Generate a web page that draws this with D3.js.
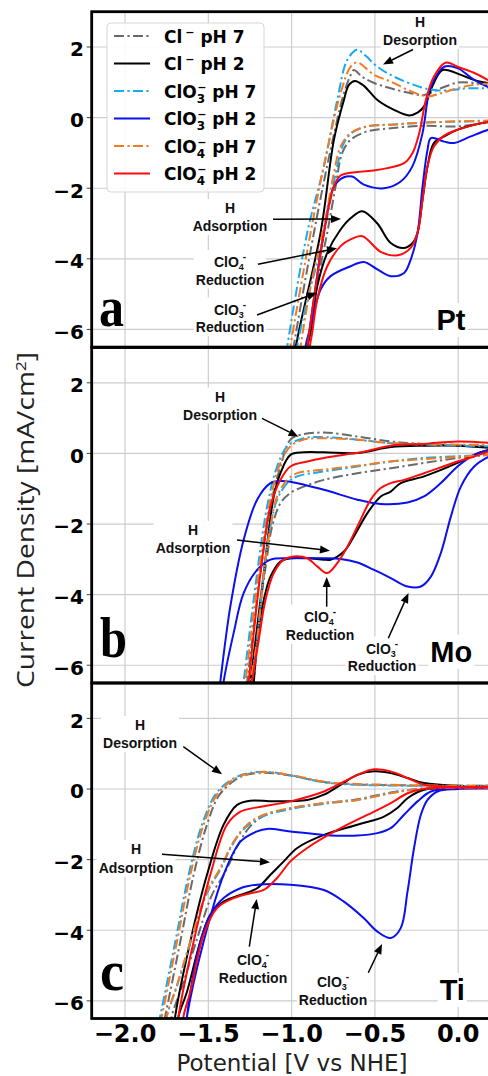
<!DOCTYPE html>
<html>
<head>
<meta charset="utf-8">
<script src="https://cdn.jsdelivr.net/npm/d3@7"></script>
<style>
  body { margin: 0; background: #fff; }
  svg { display: block; }
</style>
</head>
<body>
<svg id="chart" width="488" height="1076"></svg>
<script>
// ---- Cyclic voltammograms: [potential V vs NHE, current density mA/cm2]
// Each loop: cathodic sweep (0.2 V -> negative) followed by the anodic return.

// Pt
const ptClpH7 = [[0.21,-0.11],[-0.004,-0.25],[-0.205,-0.23],[-0.405,-0.30],[-0.545,-0.39],[-0.646,-0.63],[-0.696,-1.00],[-0.736,-1.95],[-0.786,-3.26],[-0.846,-4.67],[-0.906,-6.47],[-0.92,-6.9],
  [-1.0,-6.9],[-0.987,-6.47],[-0.866,-3.26],[-0.766,-0.91],[-0.686,0.69],[-0.646,1.20],[-0.626,1.35],[-0.575,1.15],[-0.505,0.98],[-0.405,0.83],[-0.285,0.69],[-0.205,0.64],[-0.104,0.83],[-0.004,0.99],[0.096,0.98],[0.21,0.93]];
const ptClpH2 = [[0.21,-0.10],[0.185,-0.11],[-0.002,-0.34],[-0.084,-0.53],[-0.146,-0.72],[-0.184,-1.38],[-0.214,-2.32],[-0.244,-3.26],[-0.274,-3.55],[-0.325,-3.69],[-0.405,-3.55],[-0.485,-3.0],[-0.575,-2.65],[-0.646,-2.85],[-0.706,-3.17],[-0.786,-3.83],[-0.846,-4.78],[-0.886,-6.08],[-0.905,-6.47],[-0.92,-6.9],
  [-0.985,-6.9],[-0.966,-6.28],[-0.826,-3.26],[-0.746,-0.63],[-0.686,0.50],[-0.656,0.93],[-0.620,1.04],[-0.566,0.90],[-0.485,0.50],[-0.385,0.22],[-0.295,0.06],[-0.244,0.14],[-0.206,0.31],[-0.146,0.98],[-0.094,1.35],[0.016,1.21],[0.094,1.07],[0.21,0.95]];
const ptClO3pH7 = [[0.21,-0.09],[-0.205,-0.14],[-0.405,-0.20],[-0.525,-0.23],[-0.626,-0.39],[-0.686,-0.72],[-0.726,-1.38],[-0.766,-2.32],[-0.826,-3.74],[-0.906,-5.15],[-0.966,-6.47],[-0.98,-6.9],
  [-1.04,-6.9],[-1.026,-6.47],[-0.906,-3.26],[-0.806,-1.38],[-0.726,0.50],[-0.665,1.64],[-0.605,1.92],[-0.555,1.75],[-0.485,1.44],[-0.385,1.16],[-0.224,0.86],[-0.124,0.77],[-0.024,0.79],[0.057,0.83],[0.21,0.83]];
const ptClO3pH2 = [[0.21,-0.32],[0.185,-0.34],[0.076,-0.53],[-0.024,-0.72],[-0.084,-0.68],[-0.164,-0.58],[-0.184,-0.91],[-0.214,-1.95],[-0.244,-3.27],[-0.285,-4.02],[-0.325,-4.40],[-0.405,-4.49],[-0.485,-4.30],[-0.566,-4.09],[-0.646,-4.21],[-0.766,-4.49],[-0.826,-4.87],[-0.886,-5.91],[-0.916,-6.47],[-0.93,-6.9],
  [-0.92,-6.9],[-0.906,-6.47],[-0.806,-3.26],[-0.746,-1.95],[-0.686,-1.69],[-0.636,-1.67],[-0.566,-1.90],[-0.445,-2.00],[-0.345,-1.81],[-0.275,-1.38],[-0.214,-0.44],[-0.184,0.50],[-0.164,0.88],[-0.084,1.44],[-0.004,1.40],[0.096,1.07],[0.21,0.80]];
const ptClO4pH7 = [[0.21,-0.08],[-0.205,-0.14],[-0.405,-0.20],[-0.545,-0.25],[-0.646,-0.44],[-0.706,-0.82],[-0.746,-1.57],[-0.806,-3.08],[-0.886,-4.78],[-0.946,-6.47],[-0.96,-6.9],
  [-1.02,-6.9],[-1.007,-6.47],[-0.886,-3.26],[-0.786,-0.91],[-0.706,0.69],[-0.646,1.44],[-0.605,1.56],[-0.505,1.21],[-0.405,1.02],[-0.304,0.79],[-0.184,0.60],[-0.104,0.69],[-0.004,0.83],[0.096,0.93],[0.21,0.98]];
const ptClO4pH2 = [[0.21,-0.10],[0.185,-0.11],[-0.004,-0.34],[-0.084,-0.51],[-0.146,-0.82],[-0.184,-1.38],[-0.214,-2.32],[-0.244,-3.26],[-0.285,-3.69],[-0.365,-3.90],[-0.465,-3.80],[-0.575,-3.36],[-0.646,-3.45],[-0.706,-3.64],[-0.786,-4.21],[-0.846,-5.15],[-0.876,-6.08],[-0.89,-6.47],[-0.90,-6.9],
  [-0.92,-6.9],[-0.906,-6.47],[-0.806,-3.26],[-0.746,-1.95],[-0.706,-1.64],[-0.605,-1.54],[-0.507,-1.50],[-0.425,-1.43],[-0.325,-1.29],[-0.274,-1.00],[-0.234,-0.44],[-0.194,0.50],[-0.146,1.16],[-0.074,1.56],[-0.004,1.44],[0.094,1.27],[0.21,0.98]];

// Mo
const moClpH7 = [[0.21,-0.03],[0.185,-0.04],[-0.004,-0.13],[-0.205,-0.27],[-0.405,-0.42],[-0.605,-0.56],[-0.806,-0.75],[-0.927,-0.94],[-1.007,-1.12],[-1.067,-1.41],[-1.117,-2.07],[-1.147,-2.92],[-1.187,-4.34],[-1.227,-6.46],[-1.24,-6.9],
  [-1.28,-6.9],[-1.267,-6.46],[-1.187,-3.39],[-1.127,-1.50],[-1.067,-0.37],[-1.007,0.39],[-0.946,0.53],[-0.806,0.59],[-0.605,0.48],[-0.405,0.34],[-0.205,0.27],[0.21,0.20]];
const moClpH2 = [[0.21,0.10],[0.185,0.10],[0.096,-0.04],[-0.004,-0.27],[-0.205,-0.65],[-0.345,-0.84],[-0.405,-1.08],[-0.465,-1.22],[-0.545,-1.69],[-0.626,-2.35],[-0.686,-2.78],[-0.766,-3.01],[-0.806,-3.01],[-0.906,-2.97],[-1.007,-2.97],[-1.067,-3.06],[-1.127,-3.49],[-1.167,-4.15],[-1.207,-5.28],[-1.227,-6.46],[-1.24,-6.9],
  [-1.26,-6.9],[-1.247,-6.46],[-1.167,-3.39],[-1.107,-1.22],[-1.067,-0.56],[-1.007,-0.04],[-0.927,0.03],[-0.806,0.03],[-0.605,0.01],[-0.405,0.18],[-0.205,0.22],[-0.004,0.22],[0.21,0.15]];
const moClO3pH7 = [[0.21,-0.03],[0.185,-0.04],[-0.205,-0.13],[-0.405,-0.23],[-0.605,-0.37],[-0.806,-0.51],[-0.966,-0.65],[-1.026,-0.84],[-1.087,-1.31],[-1.127,-2.07],[-1.167,-3.39],[-1.207,-5.28],[-1.237,-6.46],[-1.25,-6.9],
  [-1.30,-6.9],[-1.288,-6.46],[-1.207,-3.39],[-1.147,-1.50],[-1.087,-0.37],[-1.026,0.20],[-0.927,0.43],[-0.806,0.46],[-0.605,0.39],[-0.405,0.29],[0.21,0.20]];
const moClO3pH2 = [[0.21,-0.05],[0.185,-0.09],[0.096,-0.37],[0.016,-0.94],[-0.044,-1.79],[-0.104,-2.82],[-0.164,-3.49],[-0.224,-3.77],[-0.304,-3.77],[-0.405,-3.53],[-0.505,-3.30],[-0.605,-3.09],[-0.706,-2.99],[-0.806,-2.97],[-1.007,-2.97],[-1.127,-3.01],[-1.207,-3.30],[-1.288,-3.96],[-1.348,-5.09],[-1.408,-6.46],[-1.42,-6.9],
  [-1.44,-6.9],[-1.428,-6.46],[-1.368,-4.34],[-1.288,-2.45],[-1.207,-1.31],[-1.127,-0.84],[-1.067,-0.78],[-1.007,-0.80],[-0.806,-1.03],[-0.605,-1.31],[-0.465,-1.43],[-0.304,-1.39],[-0.205,-1.22],[-0.104,-0.84],[-0.004,-0.37],[0.096,-0.04],[0.21,0.12]];
const moClO4pH7 = [[0.21,-0.03],[0.185,-0.04],[-0.205,-0.16],[-0.405,-0.23],[-0.605,-0.35],[-0.806,-0.46],[-0.966,-0.56],[-1.026,-0.75],[-1.087,-1.22],[-1.127,-2.07],[-1.167,-3.39],[-1.207,-5.28],[-1.247,-6.46],[-1.26,-6.9],
  [-1.29,-6.9],[-1.277,-6.46],[-1.197,-3.39],[-1.127,-1.31],[-1.067,-0.27],[-1.007,0.20],[-0.927,0.39],[-0.806,0.43],[-0.605,0.39],[-0.405,0.29],[0.21,0.24]];
const moClO4pH2 = [[0.21,0.05],[0.185,0.05],[0.096,-0.09],[-0.004,-0.23],[-0.205,-0.56],[-0.325,-0.75],[-0.405,-0.84],[-0.465,-0.98],[-0.525,-1.31],[-0.605,-2.07],[-0.665,-2.64],[-0.726,-3.11],[-0.786,-3.39],[-0.846,-3.20],[-0.906,-2.97],[-0.987,-2.92],[-1.047,-3.01],[-1.107,-3.39],[-1.157,-4.15],[-1.197,-5.28],[-1.237,-6.46],[-1.25,-6.9],
  [-1.27,-6.9],[-1.258,-6.46],[-1.187,-3.39],[-1.127,-1.50],[-1.067,-0.75],[-1.007,-0.37],[-0.906,-0.23],[-0.806,-0.13],[-0.686,-0.04],[-0.566,0.05],[-0.405,0.22],[-0.205,0.27],[-0.004,0.34],[0.21,0.29]];

// Ti
const tiClpH7 = [[0.21,0.03],[-0.205,0.01],[-0.405,-0.10],[-0.605,-0.29],[-0.806,-0.40],[-1.007,-0.55],[-1.167,-0.76],[-1.247,-1.05],[-1.318,-1.55],[-1.398,-2.35],[-1.478,-3.00],[-1.578,-4.40],[-1.658,-5.60],[-1.72,-6.44],[-1.73,-6.9],
  [-1.78,-6.9],[-1.759,-6.44],[-1.668,-4.32],[-1.588,-2.43],[-1.508,-1.01],[-1.438,-0.20],[-1.358,0.19],[-1.288,0.38],[-1.167,0.46],[-1.007,0.38],[-0.806,0.20],[-0.605,0.13],[-0.405,0.11],[-0.205,0.10],[0.21,0.09]];
const tiClpH2 = [[0.21,0.03],[-0.205,-0.02],[-0.304,-0.26],[-0.365,-0.54],[-0.445,-0.78],[-0.605,-1.01],[-0.806,-1.30],[-0.966,-1.67],[-1.047,-2.05],[-1.127,-2.43],[-1.207,-2.81],[-1.307,-3.00],[-1.408,-3.19],[-1.488,-3.56],[-1.548,-4.32],[-1.628,-5.74],[-1.679,-6.44],[-1.69,-6.9],
  [-1.71,-6.9],[-1.699,-6.44],[-1.608,-4.32],[-1.508,-2.43],[-1.408,-1.01],[-1.327,-0.45],[-1.247,-0.33],[-1.107,-0.35],[-0.906,-0.31],[-0.806,-0.16],[-0.706,0.12],[-0.605,0.40],[-0.505,0.50],[-0.405,0.45],[-0.304,0.31],[-0.205,0.17],[-0.004,0.09],[0.21,0.09]];
const tiClO3pH7 = [[0.21,0.03],[-0.205,0.02],[-0.405,-0.11],[-0.605,-0.31],[-0.806,-0.42],[-1.007,-0.57],[-1.167,-0.76],[-1.267,-1.05],[-1.348,-1.52],[-1.428,-2.28],[-1.508,-2.95],[-1.608,-4.36],[-1.688,-5.58],[-1.749,-6.44],[-1.76,-6.9],
  [-1.81,-6.9],[-1.789,-6.44],[-1.698,-4.32],[-1.618,-2.43],[-1.538,-1.01],[-1.458,-0.16],[-1.378,0.21],[-1.288,0.42],[-1.167,0.49],[-1.007,0.39],[-0.806,0.19],[-0.605,0.12],[-0.405,0.10],[-0.205,0.09],[0.21,0.09]];
const tiClO3pH2 = [[0.21,0.01],[-0.004,0.00],[-0.124,-0.07],[-0.184,-0.31],[-0.224,-0.73],[-0.265,-1.67],[-0.304,-2.90],[-0.345,-3.94],[-0.405,-4.22],[-0.485,-4.04],[-0.566,-3.66],[-0.686,-3.19],[-0.806,-2.86],[-1.007,-2.71],[-1.207,-2.71],[-1.307,-2.81],[-1.408,-3.09],[-1.488,-3.56],[-1.548,-4.32],[-1.608,-5.74],[-1.628,-6.44],[-1.64,-6.9],
  [-1.64,-6.9],[-1.628,-6.44],[-1.528,-4.32],[-1.408,-2.43],[-1.307,-1.49],[-1.207,-1.20],[-1.147,-1.13],[-1.007,-1.20],[-0.806,-1.30],[-0.605,-1.32],[-0.485,-1.25],[-0.405,-1.11],[-0.325,-0.73],[-0.244,-0.35],[-0.164,-0.07],[-0.004,0.03],[0.21,0.03]];
const tiClO4pH7 = [[0.21,0.03],[-0.205,0.01],[-0.405,-0.12],[-0.605,-0.31],[-0.806,-0.40],[-1.007,-0.54],[-1.167,-0.73],[-1.267,-1.01],[-1.348,-1.49],[-1.428,-2.24],[-1.508,-2.90],[-1.608,-4.32],[-1.688,-5.55],[-1.749,-6.44],[-1.76,-6.9],
  [-1.80,-6.9],[-1.779,-6.44],[-1.688,-4.32],[-1.608,-2.43],[-1.528,-1.01],[-1.448,-0.16],[-1.368,0.21],[-1.288,0.40],[-1.167,0.48],[-1.007,0.40],[-0.806,0.21],[-0.605,0.14],[-0.405,0.12],[-0.205,0.10],[0.21,0.09]];
const tiClO4pH2 = [[0.21,0.03],[-0.205,0.01],[-0.304,-0.12],[-0.405,-0.40],[-0.505,-0.64],[-0.706,-1.11],[-0.906,-1.67],[-1.007,-2.05],[-1.087,-2.52],[-1.167,-2.86],[-1.247,-2.95],[-1.348,-3.09],[-1.448,-3.37],[-1.528,-4.13],[-1.608,-5.74],[-1.649,-6.44],[-1.66,-6.9],
  [-1.69,-6.9],[-1.679,-6.44],[-1.588,-4.32],[-1.488,-2.43],[-1.388,-1.01],[-1.307,-0.64],[-1.207,-0.52],[-1.007,-0.35],[-0.806,-0.07],[-0.686,0.21],[-0.605,0.40],[-0.505,0.56],[-0.405,0.50],[-0.304,0.31],[-0.205,0.12],[0.21,0.07]];

// ---- Labels, ticks, styles
const seriesLabels = ["Cl⁻ pH 7", "Cl⁻ pH 2", "ClO₃⁻ pH 7", "ClO₃⁻ pH 2", "ClO₄⁻ pH 7", "ClO₄⁻ pH 2"];
const seriesColors = ["#6a6a6a", "#000000", "#17a9f2", "#0a10ee", "#f47a22", "#ff0b0b"];
const seriesDashed = [true, false, true, false, true, false];
const xTicks = [-2.0, -1.5, -1.0, -0.5, 0.0];
const yTicks = [2, 0, -2, -4, -6];
const metals = ["Pt", "Mo", "Ti"];
const panelLetters = ["a", "b", "c"];
const panelSeries = [
  [ptClpH7, ptClpH2, ptClO3pH7, ptClO3pH2, ptClO4pH7, ptClO4pH2],
  [moClpH7, moClpH2, moClO3pH7, moClO3pH2, moClO4pH7, moClO4pH2],
  [tiClpH7, tiClpH2, tiClO3pH7, tiClO3pH2, tiClO4pH7, tiClO4pH2]
];

// ---- Layout
const svg = d3.select("#chart");
const X0 = 91.7, X1 = 491.5;
const panelTop = [11.7, 347.5, 683.1];
const panelH = 335.4;
const x = d3.scaleLinear().domain([-2.2, 0.2]).range([X0, X1]);
const yFor = i => d3.scaleLinear().domain([-6.5, 3.0]).range([panelTop[i] + panelH, panelTop[i]]);
const DASH = "10,3.4,2.2,3.4";
const fmtX = d3.format(".1f");
const fmtY = d3.format("d");

const defs = svg.append("defs");

// Builds text from segments: {t, fs, dx, dy}
function rich(textSel, segs) {
  segs.forEach(s => {
    const ts = textSel.append("tspan").text(s.t);
    if (s.fs) ts.attr("font-size", s.fs);
    if (s.dx) ts.attr("dx", s.dx);
    if (s.dy) ts.attr("dy", s.dy);
  });
  return textSel;
}

// White backing box placed in a given layer, sized to a text node
function boxFor(layer, node, pad) {
  const b = node.getBBox();
  layer.append("rect")
    .attr("x", b.x - pad).attr("y", b.y - pad + 1)
    .attr("width", b.width + 2 * pad).attr("height", b.height + 2 * pad - 2)
    .attr("fill", "#fff");
}

function arrow(g, x1, y1, x2, y2) {
  const ang = Math.atan2(y2 - y1, x2 - x1);
  const L = 10, Wd = 4;
  const bx = x2 - L * Math.cos(ang), by = y2 - L * Math.sin(ang);
  g.append("line").attr("x1", x1).attr("y1", y1).attr("x2", bx).attr("y2", by)
    .attr("stroke", "#000").attr("stroke-width", 1.5);
  const px = -Math.sin(ang) * Wd, py = Math.cos(ang) * Wd;
  g.append("path")
    .attr("d", `M${x2},${y2}L${bx + px},${by + py}L${bx - px},${by - py}Z`)
    .attr("fill", "#000");
}

const ANN_FONT = "'Liberation Sans', Arial, sans-serif";
function note(boxLayer, g, cx, rows, from, to) {
  const tg = g.append("g");
  rows.forEach(r => {
    const t = tg.append("text").attr("x", cx).attr("y", r.y)
      .attr("text-anchor", "middle")
      .attr("font-family", ANN_FONT).attr("font-weight", "bold")
      .attr("font-size", 14).attr("fill", "#111");
    rich(t, r.segs);
  });
  boxFor(boxLayer, tg.node(), 2);
  if (from) arrow(g, from[0], from[1], to[0], to[1]);
}
const ionSegs = n => [{t: "ClO"}, {t: n, fs: 9, dy: 3}, {t: "-", fs: 10, dx: -1, dy: -10}];
const plain = s => [{t: s}];

// Annotation layout per panel
const notes = [
  [
    {cx: 420, rows: [{y: 27, segs: plain("H")}, {y: 45, segs: plain("Desorption")}], from: [413, 49.5], to: [383, 64.5]},
    {cx: 230, rows: [{y: 213, segs: plain("H")}, {y: 231, segs: plain("Adsorption")}], from: [273, 219.3], to: [341, 219]},
    {cx: 230, rows: [{y: 267, segs: ionSegs("4")}, {y: 284.5, segs: plain("Reduction")}], from: [258, 264.3], to: [337, 248.3]},
    {cx: 230, rows: [{y: 314.5, segs: ionSegs("3")}, {y: 332, segs: plain("Reduction")}], from: [257, 315], to: [317, 292.7]}
  ],
  [
    {cx: 220, rows: [{y: 401.5, segs: plain("H")}, {y: 419.5, segs: plain("Desorption")}], from: [262, 418.3], to: [298.5, 436.7]},
    {cx: 193, rows: [{y: 535, segs: plain("H")}, {y: 553, segs: plain("Adsorption")}], from: [237, 540], to: [330, 550.7]},
    {cx: 320, rows: [{y: 621.5, segs: ionSegs("4")}, {y: 640, segs: plain("Reduction")}], from: [326.7, 606.7], to: [326.7, 577]},
    {cx: 382, rows: [{y: 653.5, segs: ionSegs("3")}, {y: 671, segs: plain("Reduction")}], from: [388.3, 638.3], to: [408.5, 593]}
  ],
  [
    {cx: 140, rows: [{y: 730, segs: plain("H")}, {y: 748, segs: plain("Desorption")}], from: [183.3, 746.7], to: [222, 774.3]},
    {cx: 136, rows: [{y: 854, segs: plain("H")}, {y: 872.5, segs: plain("Adsorption")}], from: [162, 854.3], to: [270, 862.3]},
    {cx: 253, rows: [{y: 964.5, segs: ionSegs("4")}, {y: 982.5, segs: plain("Reduction")}], from: [249.3, 946.7], to: [256.7, 899]},
    {cx: 333, rows: [{y: 986.5, segs: ionSegs("3")}, {y: 1004.5, segs: plain("Reduction")}], from: [368.3, 972.7], to: [382, 944]}
  ]
];
const letterPos = [[99, 326], [100, 656.7], [100, 990]];
const metalPos = [[451, 330], [451.3, 661.7], [452.3, 1000]];

const line = d3.line().x(d => x(d[0])).curve(d3.curveCatmullRom.alpha(0.5));

panelSeries.forEach((series, i) => {
  const y = yFor(i);
  const top = panelTop[i], bottom = top + panelH;
  const g = svg.append("g");

  defs.append("clipPath").attr("id", "clip" + i)
    .append("rect").attr("x", X0).attr("y", top).attr("width", X1 - X0).attr("height", panelH);

  // grid
  g.append("g").selectAll("line.v").data(xTicks).join("line")
    .attr("x1", d => x(d)).attr("x2", d => x(d)).attr("y1", top).attr("y2", bottom)
    .attr("stroke", "#cdcdcd").attr("stroke-width", 1.2);
  g.append("g").selectAll("line.h").data(yTicks).join("line")
    .attr("x1", X0).attr("x2", X1).attr("y1", d => y(d)).attr("y2", d => y(d))
    .attr("stroke", "#cdcdcd").attr("stroke-width", 1.2);

  // y axis ticks and labels
  const yAxis = g.append("g");
  yAxis.selectAll("line").data(yTicks).join("line")
    .attr("x1", X0 - 5).attr("x2", X0).attr("y1", d => y(d)).attr("y2", d => y(d))
    .attr("stroke", "#444").attr("stroke-width", 1);
  yAxis.selectAll("text").data(yTicks).join("text")
    .attr("x", 84).attr("y", d => y(d) + 9.3)
    .attr("text-anchor", "end")
    .attr("font-family", "'DejaVu Sans', sans-serif").attr("font-weight", "bold")
    .attr("font-size", 20).attr("fill", "#000")
    .text(d => fmtY(d));

  // curves
  const cg = g.append("g").attr("clip-path", `url(#clip${i})`);
  series.forEach((data, k) => {
    cg.append("path")
      .attr("d", line.y(d => y(d[1]))(data))
      .attr("fill", "none")
      .attr("stroke", seriesColors[k])
      .attr("stroke-width", 2)
      .attr("stroke-dasharray", seriesDashed[k] ? DASH : null)
      .attr("stroke-linejoin", "round");
  });

  // annotations: backing boxes sit under all annotation text
  const boxLayer = g.append("g");
  const annLayer = g.append("g");
  notes[i].forEach(n => note(boxLayer, annLayer, n.cx, n.rows, n.from, n.to));

  // panel letter
  annLayer.append("text").attr("x", letterPos[i][0]).attr("y", letterPos[i][1])
    .attr("font-family", "'Liberation Serif', 'Times New Roman', serif")
    .attr("font-weight", "bold").attr("font-size", 58)
    .attr("textLength", i === 0 ? 25 : (i === 1 ? 27 : 24)).attr("lengthAdjust", "spacingAndGlyphs")
    .text(panelLetters[i]);

  // metal name
  const mt = annLayer.append("text").attr("x", metalPos[i][0]).attr("y", metalPos[i][1])
    .attr("text-anchor", "middle")
    .attr("font-family", ANN_FONT).attr("font-weight", "bold").attr("font-size", 29)
    .text(metals[i]);
  boxFor(boxLayer, mt.node(), 2);

  // frame
  g.append("rect").attr("x", X0).attr("y", top).attr("width", X1 - X0).attr("height", panelH)
    .attr("fill", "none").attr("stroke", "#000").attr("stroke-width", 2.8);
});

// ---- Legend (panel a)
const lg = svg.append("g");
lg.append("rect").attr("x", 107).attr("y", 23).attr("width", 157).attr("height", 169)
  .attr("rx", 4).attr("fill", "#fff").attr("fill-opacity", 0.9)
  .attr("stroke", "#d6d6d6").attr("stroke-width", 1);
const legendRowY = d3.range(6).map(k => 36 + k * 27.5);
const legendSegs = [
  [{t: "Cl"}, {t: "−", fs: 11, dx: 3, dy: -7}, {t: " pH 7", dy: 7}],
  [{t: "Cl"}, {t: "−", fs: 11, dx: 3, dy: -7}, {t: " pH 2", dy: 7}],
  [{t: "ClO"}, {t: "3", fs: 12, dy: 5}, {t: "−", fs: 11, dx: -8, dy: -12}, {t: " pH 7", dy: 7}],
  [{t: "ClO"}, {t: "3", fs: 12, dy: 5}, {t: "−", fs: 11, dx: -8, dy: -12}, {t: " pH 2", dy: 7}],
  [{t: "ClO"}, {t: "4", fs: 12, dy: 5}, {t: "−", fs: 11, dx: -8, dy: -12}, {t: " pH 7", dy: 7}],
  [{t: "ClO"}, {t: "4", fs: 12, dy: 5}, {t: "−", fs: 11, dx: -8, dy: -12}, {t: " pH 2", dy: 7}]
];
seriesLabels.forEach((lab, k) => {
  const yy = legendRowY[k];
  lg.append("line").attr("x1", 114).attr("x2", 150).attr("y1", yy).attr("y2", yy)
    .attr("stroke", seriesColors[k]).attr("stroke-width", 2)
    .attr("stroke-dasharray", seriesDashed[k] ? DASH : null);
  const t = lg.append("text").attr("x", 164).attr("y", yy + 6.5)
    .attr("font-family", "'DejaVu Sans', sans-serif").attr("font-weight", "bold")
    .attr("font-size", 17).attr("fill", "#000")
    .attr("aria-label", lab);
  rich(t, legendSegs[k]);
});

// ---- Shared x axis
const xa = svg.append("g");
xa.selectAll("text").data(xTicks).join("text")
  .attr("x", d => x(d)).attr("y", 1041.5)
  .attr("text-anchor", "middle")
  .attr("font-family", "'DejaVu Sans', sans-serif").attr("font-weight", "bold")
  .attr("font-size", 24).attr("fill", "#000")
  .text(d => fmtX(d));
svg.append("text").attr("x", 292).attr("y", 1071)
  .attr("text-anchor", "middle")
  .attr("font-family", "'DejaVu Sans', sans-serif").attr("font-size", 23).attr("fill", "#222")
  .text("Potential [V vs NHE]");

// ---- Y axis title
const yt = svg.append("text")
  .attr("transform", "translate(33.5,520) rotate(-90)")
  .attr("text-anchor", "middle")
  .attr("font-family", "'Open Sans', 'Noto Sans', sans-serif")
  .attr("font-size", 23).attr("fill", "#222")
  .attr("textLength", 336).attr("lengthAdjust", "spacingAndGlyphs");
rich(yt, [{t: "Current Density [mA/cm"}, {t: "2", fs: 14, dy: -8}, {t: "]", dy: 8}]);
</script>
</body>
</html>
